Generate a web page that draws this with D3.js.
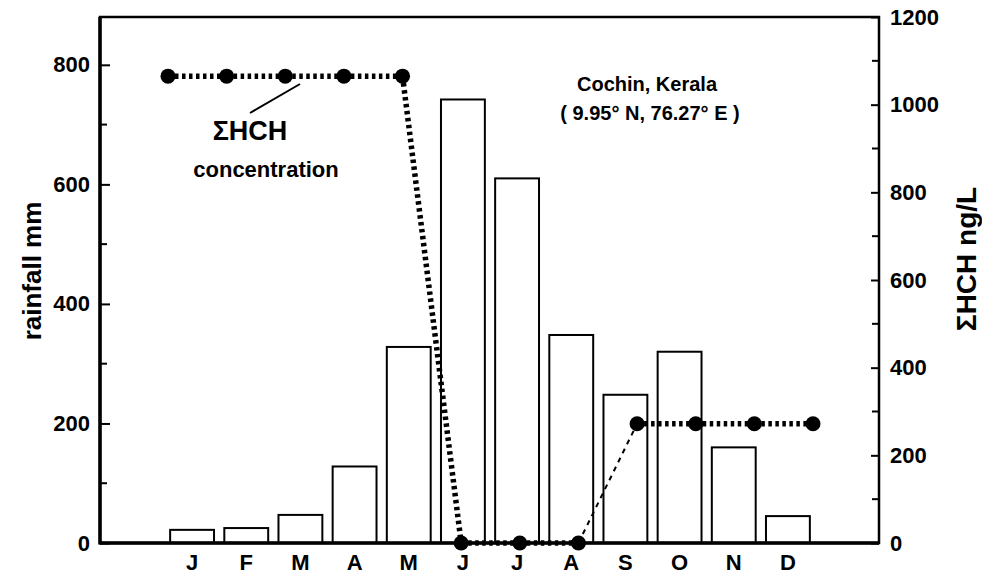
<!DOCTYPE html>
<html>
<head>
<meta charset="utf-8">
<script src="https://cdn.jsdelivr.net/npm/d3@7"></script>
<style>
  body { margin: 0; background: #fff; }
  svg text { font-family: "Liberation Sans", Arial, sans-serif; font-weight: bold; fill: #000; }
</style>
</head>
<body>
<svg id="chart" width="982" height="575"></svg>
<script>
// monthly values, Cochin (Kerala)
const months = ["J", "F", "M", "A", "M", "J", "J", "A", "S", "O", "N", "D"];
const rainfall = [22, 25, 47, 128, 328, 742, 610, 348, 248, 320, 160, 45]; // mm
const hch = [1065, 1065, 1065, 1065, 1065, 0, 0, 0, 272, 272, 272, 272]; // ng/L
const leftTicks = [0, 200, 400, 600, 800];
const rightTicks = [0, 200, 400, 600, 800, 1000, 1200];

const svg = d3.select("#chart");
const L = 100, R = 879, T = 17, B = 543;

let yLeft = d3.scaleLinear().domain([0, 880]).range([B, T]);
let yRight = d3.scaleLinear().domain([0, 1200]).range([B, T]);
let xBar = d3.scaleBand().domain(d3.range(12)).range([165, 815])
             .paddingInner(0.19).paddingOuter(0.095);
let xDot = d3.scalePoint().domain(d3.range(12)).range([168, 813]);

// bars (rainfall)
svg.append("g").selectAll("rect")
    .data(rainfall)
    .enter()
    .append("rect")
    .attr("x", (d, i) => xBar(i))
    .attr("y", d => yLeft(d))
    .attr("width", xBar.bandwidth())
    .attr("height", d => yLeft(0) - yLeft(d))
    .style("fill", "#fff")
    .style("stroke", "#000")
    .style("stroke-width", 2);

// left axis, ticks point inwards
let axL = svg.append("g").attr("transform", "translate(" + L + ",0)")
    .call(d3.axisLeft(yLeft).tickValues(leftTicks).tickFormat(d3.format("d")).tickSize(-10).tickPadding(10));
axL.selectAll(".tick line").style("stroke-width", 2);
axL.append("g").selectAll("line")
    .data(d3.range(100, 880, 200))
    .enter().append("line")
    .attr("x1", 0).attr("x2", 7)
    .attr("y1", d => yLeft(d)).attr("y2", d => yLeft(d))
    .style("stroke", "#000").style("stroke-width", 2);

// right axis
let axR = svg.append("g").attr("transform", "translate(" + R + ",0)")
    .call(d3.axisRight(yRight).tickValues(rightTicks).tickFormat(d3.format("d")).tickSize(-8).tickPadding(11));
axR.selectAll(".tick line").style("stroke-width", 2);
axR.append("g").selectAll("line")
    .data(d3.range(100, 1200, 200))
    .enter().append("line")
    .attr("x1", 0).attr("x2", -7)
    .attr("y1", d => yRight(d)).attr("y2", d => yRight(d))
    .style("stroke", "#000").style("stroke-width", 2);

[axL, axR].forEach(a => {
    a.select(".domain").remove();
    a.selectAll("text").style("font-size", "22px").style("font-family", "'Liberation Sans', Arial, sans-serif").style("font-weight", "bold");
});

// frame
svg.append("rect").attr("x", L).attr("y", T).attr("width", R - L).attr("height", B - T)
    .style("fill", "none").style("stroke", "#000").style("stroke-width", 2.5);
svg.append("line").attr("x1", L).attr("x2", L).attr("y1", T).attr("y2", B + 1.5)
    .style("stroke", "#000").style("stroke-width", 3.5);
svg.append("line").attr("x1", L).attr("x2", R).attr("y1", B).attr("y2", B)
    .style("stroke", "#000").style("stroke-width", 3.5);

// month labels under the bars
svg.append("g").selectAll("text")
    .data(months)
    .enter().append("text")
    .attr("x", (d, i) => xBar(i) + xBar.bandwidth() / 2)
    .attr("y", 570)
    .attr("text-anchor", "middle")
    .style("font-size", "22px")
    .text(d => d);

// HCH line, one piece per pair of months (Aug -> Sep is thin dashed)
let segs = d3.range(11).map(i => ({ a: i, b: i + 1 }));
svg.append("g").selectAll("line")
    .data(segs)
    .enter().append("line")
    .attr("x1", d => xDot(d.a)).attr("y1", d => yRight(hch[d.a]))
    .attr("x2", d => xDot(d.b)).attr("y2", d => yRight(hch[d.b]))
    .style("stroke", "#000")
    .style("stroke-width", d => d.a === 7 ? 2 : 5.5)
    .style("stroke-dasharray", d => d.a === 7 ? "5,5" : "3.5,3.5");

svg.append("g").selectAll("circle")
    .data(hch)
    .enter().append("circle")
    .attr("cx", (d, i) => xDot(i))
    .attr("cy", d => yRight(d))
    .attr("r", 7.5)
    .style("fill", "#000");

// annotation
svg.append("line").attr("x1", 250).attr("y1", 113).attr("x2", 300).attr("y2", 84)
    .style("stroke", "#000").style("stroke-width", 2);
svg.append("text").attr("x", 250).attr("y", 140).attr("text-anchor", "middle")
    .style("font-size", "27px").text("ΣHCH");
svg.append("text").attr("x", 266).attr("y", 177).attr("text-anchor", "middle")
    .style("font-size", "22px").text("concentration");

svg.append("text").attr("x", 647).attr("y", 91).attr("text-anchor", "middle")
    .style("font-size", "20px").text("Cochin, Kerala");
svg.append("text").attr("x", 650).attr("y", 120).attr("text-anchor", "middle")
    .style("font-size", "20px").text("( 9.95° N, 76.27° E )");

// axis titles
svg.append("text").attr("transform", "translate(41,271) rotate(-90)")
    .attr("text-anchor", "middle").style("font-size", "26px").text("rainfall mm");
svg.append("text").attr("transform", "translate(976,259) rotate(-90)")
    .attr("text-anchor", "middle").style("font-size", "28px").text("ΣHCH ng/L");
</script>
</body>
</html>
